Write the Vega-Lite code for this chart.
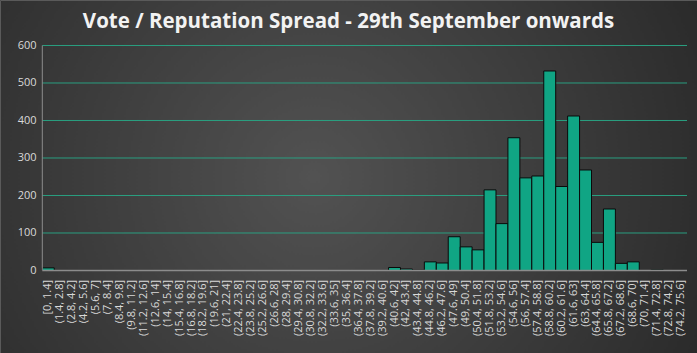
{
  "$schema": "https://vega.github.io/schema/vega-lite/v6.json",
  "width": 697,
  "height": 353,
  "padding": 0,
  "autosize": {"type": "none"},
  "background": "#2a2a2a",
  "config": {
    "view": {
      "fill": {"gradient": "radial", "x1": 0.45, "y1": 0.5, "r1": 0, "x2": 0.45, "y2": 0.5, "r2": 0.72,
        "stops": [{"offset": 0, "color": "#525252"}, {"offset": 1, "color": "#232323"}]},
      "stroke": "#5a5a5a"
    },
    "font": "Open Sans",
    "axis": {"grid": false, "domain": false, "ticks": false, "labelColor": "#d9d9d9", "labelFont": "Open Sans", "labelFontSize": 11, "title": null}
  },
  "title": {
    "text": "Vote / Reputation Spread - 29th September onwards",
    "font": "Open Sans",
    "fontSize": 20.5,
    "fontWeight": "bold",
    "color": "#f2f2f2",
    "anchor": "middle",
    "offset": -48,
    "baseline": "alphabetic"
  },
  "datasets": {
    "bins": [
      {"bin": "[0, 1.4]", "lo": 0, "hi": 1.4, "mid": 0.7, "count": 7},
      {"bin": "(1.4, 2.8]", "lo": 1.4, "hi": 2.8, "mid": 2.1, "count": 0},
      {"bin": "(2.8, 4.2]", "lo": 2.8, "hi": 4.2, "mid": 3.5, "count": 0},
      {"bin": "(4.2, 5.6]", "lo": 4.2, "hi": 5.6, "mid": 4.9, "count": 0},
      {"bin": "(5.6, 7]", "lo": 5.6, "hi": 7, "mid": 6.3, "count": 0},
      {"bin": "(7, 8.4]", "lo": 7, "hi": 8.4, "mid": 7.7, "count": 0},
      {"bin": "(8.4, 9.8]", "lo": 8.4, "hi": 9.8, "mid": 9.1, "count": 0},
      {"bin": "(9.8, 11.2]", "lo": 9.8, "hi": 11.2, "mid": 10.5, "count": 0},
      {"bin": "(11.2, 12.6]", "lo": 11.2, "hi": 12.6, "mid": 11.9, "count": 0},
      {"bin": "(12.6, 14]", "lo": 12.6, "hi": 14, "mid": 13.3, "count": 0},
      {"bin": "(14, 15.4]", "lo": 14, "hi": 15.4, "mid": 14.7, "count": 0},
      {"bin": "(15.4, 16.8]", "lo": 15.4, "hi": 16.8, "mid": 16.1, "count": 0},
      {"bin": "(16.8, 18.2]", "lo": 16.8, "hi": 18.2, "mid": 17.5, "count": 0},
      {"bin": "(18.2, 19.6]", "lo": 18.2, "hi": 19.6, "mid": 18.9, "count": 0},
      {"bin": "(19.6, 21]", "lo": 19.6, "hi": 21, "mid": 20.3, "count": 0},
      {"bin": "(21, 22.4]", "lo": 21, "hi": 22.4, "mid": 21.7, "count": 0},
      {"bin": "(22.4, 23.8]", "lo": 22.4, "hi": 23.8, "mid": 23.1, "count": 0},
      {"bin": "(23.8, 25.2]", "lo": 23.8, "hi": 25.2, "mid": 24.5, "count": 0},
      {"bin": "(25.2, 26.6]", "lo": 25.2, "hi": 26.6, "mid": 25.9, "count": 0},
      {"bin": "(26.6, 28]", "lo": 26.6, "hi": 28, "mid": 27.3, "count": 0},
      {"bin": "(28, 29.4]", "lo": 28, "hi": 29.4, "mid": 28.7, "count": 0},
      {"bin": "(29.4, 30.8]", "lo": 29.4, "hi": 30.8, "mid": 30.1, "count": 0},
      {"bin": "(30.8, 32.2]", "lo": 30.8, "hi": 32.2, "mid": 31.5, "count": 0},
      {"bin": "(32.2, 33.6]", "lo": 32.2, "hi": 33.6, "mid": 32.9, "count": 0},
      {"bin": "(33.6, 35]", "lo": 33.6, "hi": 35, "mid": 34.3, "count": 0},
      {"bin": "(35, 36.4]", "lo": 35, "hi": 36.4, "mid": 35.7, "count": 0},
      {"bin": "(36.4, 37.8]", "lo": 36.4, "hi": 37.8, "mid": 37.1, "count": 0},
      {"bin": "(37.8, 39.2]", "lo": 37.8, "hi": 39.2, "mid": 38.5, "count": 0},
      {"bin": "(39.2, 40.6]", "lo": 39.2, "hi": 40.6, "mid": 39.9, "count": 0},
      {"bin": "(40.6, 42]", "lo": 40.6, "hi": 42, "mid": 41.3, "count": 8},
      {"bin": "(42, 43.4]", "lo": 42, "hi": 43.4, "mid": 42.7, "count": 4},
      {"bin": "(43.4, 44.8]", "lo": 43.4, "hi": 44.8, "mid": 44.1, "count": 1},
      {"bin": "(44.8, 46.2]", "lo": 44.8, "hi": 46.2, "mid": 45.5, "count": 23},
      {"bin": "(46.2, 47.6]", "lo": 46.2, "hi": 47.6, "mid": 46.9, "count": 20},
      {"bin": "(47.6, 49]", "lo": 47.6, "hi": 49, "mid": 48.3, "count": 90},
      {"bin": "(49, 50.4]", "lo": 49, "hi": 50.4, "mid": 49.7, "count": 63},
      {"bin": "(50.4, 51.8]", "lo": 50.4, "hi": 51.8, "mid": 51.1, "count": 55},
      {"bin": "(51.8, 53.2]", "lo": 51.8, "hi": 53.2, "mid": 52.5, "count": 215},
      {"bin": "(53.2, 54.6]", "lo": 53.2, "hi": 54.6, "mid": 53.9, "count": 125},
      {"bin": "(54.6, 56]", "lo": 54.6, "hi": 56, "mid": 55.3, "count": 354},
      {"bin": "(56, 57.4]", "lo": 56, "hi": 57.4, "mid": 56.7, "count": 247},
      {"bin": "(57.4, 58.8]", "lo": 57.4, "hi": 58.8, "mid": 58.1, "count": 252},
      {"bin": "(58.8, 60.2]", "lo": 58.8, "hi": 60.2, "mid": 59.5, "count": 532},
      {"bin": "(60.2, 61.6]", "lo": 60.2, "hi": 61.6, "mid": 60.9, "count": 224},
      {"bin": "(61.6, 63]", "lo": 61.6, "hi": 63, "mid": 62.3, "count": 412},
      {"bin": "(63, 64.4]", "lo": 63, "hi": 64.4, "mid": 63.7, "count": 268},
      {"bin": "(64.4, 65.8]", "lo": 64.4, "hi": 65.8, "mid": 65.1, "count": 75},
      {"bin": "(65.8, 67.2]", "lo": 65.8, "hi": 67.2, "mid": 66.5, "count": 164},
      {"bin": "(67.2, 68.6]", "lo": 67.2, "hi": 68.6, "mid": 67.9, "count": 19},
      {"bin": "(68.6, 70]", "lo": 68.6, "hi": 70, "mid": 69.3, "count": 23},
      {"bin": "(70, 71.4]", "lo": 70, "hi": 71.4, "mid": 70.7, "count": 0},
      {"bin": "(71.4, 72.8]", "lo": 71.4, "hi": 72.8, "mid": 72.1, "count": 2},
      {"bin": "(72.8, 74.2]", "lo": 72.8, "hi": 74.2, "mid": 73.5, "count": 0},
      {"bin": "(74.2, 75.6]", "lo": 74.2, "hi": 75.6, "mid": 74.9, "count": 0}
    ],
    "grid": [{"g": 100}, {"g": 200}, {"g": 300}, {"g": 400}, {"g": 500}, {"g": 600}]
  },
  "layer": [
    {
      "data": {"name": "grid"},
      "mark": {"type": "rule", "color": "#2a9f80", "strokeWidth": 1},
      "encoding": {
        "y": {"field": "g", "type": "quantitative", "title": null},
        "x": {"datum": 0, "type": "quantitative"},
        "x2": {"datum": 75.6}
      }
    },
    {
      "data": {"name": "bins"},
      "mark": {"type": "bar", "fill": "#10a584", "stroke": "#0a0a0a", "strokeWidth": 1},
      "encoding": {
        "x": {
          "field": "lo", "type": "quantitative", "title": null,
          "scale": {"domain": [-4.96, 76.77], "nice": false, "zero": false},
          "axis": null
        },
        "x2": {"field": "hi"},
        "y": {
          "field": "count", "type": "quantitative", "title": null,
          "scale": {"domain": [-220, 721.3], "nice": false, "zero": false},
          "axis": {"orient": "left", "offset": -42, "values": [0, 100, 200, 300, 400, 500, 600], "labelPadding": 6}
        },
        "y2": {"datum": 0}
      }
    },
    {
      "data": {"name": "bins"},
      "mark": {"type": "text", "angle": 270, "align": "right", "baseline": "middle", "font": "Open Sans", "fontSize": 11, "color": "#d9d9d9"},
      "encoding": {
        "x": {"field": "mid", "type": "quantitative"},
        "y": {"datum": -25, "type": "quantitative"},
        "text": {"field": "bin"}
      }
    },
    {
      "data": {"values": [{}]},
      "mark": {"type": "rule", "color": "#8c8c8c", "strokeWidth": 1},
      "encoding": {
        "x": {"datum": 0, "type": "quantitative"},
        "y": {"datum": 0, "type": "quantitative"},
        "y2": {"datum": 600}
      }
    },
    {
      "data": {"values": [{}]},
      "mark": {"type": "rule", "color": "#8c8c8c", "strokeWidth": 1.5},
      "encoding": {
        "y": {"datum": 0, "type": "quantitative"},
        "x": {"datum": 0, "type": "quantitative"},
        "x2": {"datum": 75.6}
      }
    }
  ]
}
